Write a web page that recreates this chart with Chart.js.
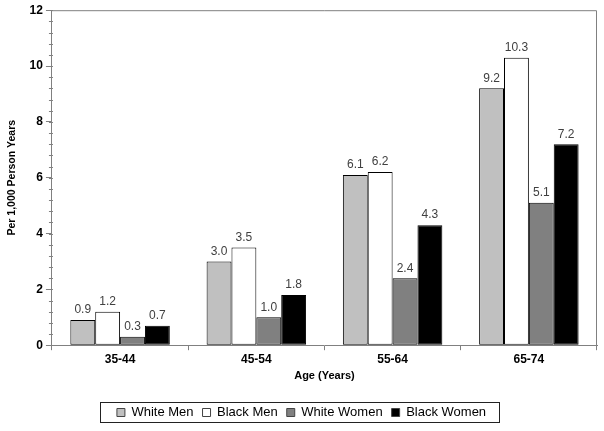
<!DOCTYPE html>
<html><head><meta charset="utf-8">
<script src="https://cdn.jsdelivr.net/npm/chart.js@4"></script>
<style>html,body{margin:0;padding:0;background:#fff}#wrap{width:604px;height:431px}</style>
</head><body><div id="wrap"><canvas id="c" width="604" height="431"></canvas></div>
<script>
const categories = ['35-44', '45-54', '55-64', '65-74'];
const whiteMen = [0.9, 3.0, 6.1, 9.2];
const blackMen = [1.2, 3.5, 6.2, 10.3];
const whiteWomen = [0.3, 1.0, 2.4, 5.1];
const blackWomen = [0.7, 1.8, 4.3, 7.2];
const seriesNames = ['White Men', 'Black Men', 'White Women', 'Black Women'];
const yTicks = [0, 2, 4, 6, 8, 10, 12];

const colors = ['#c0c0c0', '#ffffff', '#808080', '#000000'];
const FONT = "'Liberation Sans', Arial, sans-serif";

const labelsPlugin = {
  id: 'extras',
  afterDatasetsDraw(chart) {
    const ctx = chart.ctx;
    const ca = chart.chartArea;
    ctx.save();
    ctx.strokeStyle = '#808080';
    ctx.lineWidth = 1;
    ctx.beginPath();
    ctx.moveTo(ca.left, ca.top + 0.5);
    ctx.lineTo(ca.right - 0.5, ca.top + 0.5);
    ctx.lineTo(ca.right - 0.5, ca.bottom);
    ctx.stroke();
    const ys = chart.scales.y;
    ctx.beginPath();
    for (let v = 0; v <= 12.001; v += 0.4) {
      const py = Math.round(ys.getPixelForValue(v)) + 0.5;
      ctx.moveTo(ca.left - 3, py);
      ctx.lineTo(ca.left + 1, py);
    }
    ctx.stroke();
    ctx.fillStyle = '#404040';
    ctx.font = '12px ' + FONT;
    ctx.textAlign = 'center';
    ctx.textBaseline = 'bottom';
    chart.data.datasets.forEach((ds, i) => {
      chart.getDatasetMeta(i).data.forEach((bar, j) => {
        ctx.fillText(ds.data[j].toFixed(1), bar.x, bar.y - 4);
      });
    });
    ctx.restore();
  },
  afterDraw(chart) {
    const lg = chart.legend;
    if (!lg || !lg.legendHitBoxes || !lg.legendHitBoxes.length) return;
    const boxes = lg.legendHitBoxes;
    let l = Infinity, r = -Infinity, t = Infinity, b = -Infinity;
    boxes.forEach(h => { l = Math.min(l, h.left); r = Math.max(r, h.left + h.width); t = Math.min(t, h.top); b = Math.max(b, h.top + h.height); });
    const ctx = chart.ctx;
    ctx.save();
    ctx.strokeStyle = '#222';
    ctx.lineWidth = 1;
    ctx.strokeRect(Math.round(l - 17) + 0.5, Math.round(t - 4) + 0.5, Math.round(r - l + 30), Math.round(b - t + 7));
    ctx.restore();
  }
};

new Chart(document.getElementById('c'), {
  type: 'bar',
  data: {
    labels: categories,
    datasets: [whiteMen, blackMen, whiteWomen, blackWomen].map((d, i) => ({
      label: seriesNames[i],
      data: d,
      backgroundColor: colors[i],
      borderColor: '#000',
      borderWidth: 1,
      borderSkipped: false,
      categoryPercentage: 0.73,
      barPercentage: 1.0
    }))
  },
  options: {
    responsive: false,
    animation: false,
    devicePixelRatio: 1,
    layout: { padding: { left: 6, right: 7, top: 9, bottom: 2 } },
    plugins: {
      tooltip: { enabled: false },
      legend: {
        position: 'bottom',
        labels: {
          boxWidth: 8, boxHeight: 8, padding: 9,
          color: '#000',
          font: { family: FONT, size: 13 },
          generateLabels(chart) {
            return chart.data.datasets.map((ds, i) => ({
              text: ds.label, fillStyle: ds.backgroundColor, strokeStyle: '#444',
              lineWidth: 1, datasetIndex: i, hidden: false
            }));
          }
        }
      }
    },
    scales: {
      x: {
        grid: { offset: true, drawOnChartArea: false, tickLength: 5, color: '#808080' },
        border: { color: '#808080' },
        ticks: { color: '#000', font: { family: FONT, size: 12, weight: 'bold', lineHeight: 0.65 }, padding: 6 },
        title: { display: true, text: 'Age (Years)', color: '#000', font: { family: FONT, size: 11, weight: 'bold', lineHeight: 1 }, padding: { top: 0, bottom: 16 } }
      },
      y: {
        min: 0, max: 12,
        afterBuildTicks(scale) { scale.ticks = yTicks.map(v => ({ value: v })); },
        grid: { drawOnChartArea: false, tickLength: 6, color: '#808080' },
        border: { color: '#808080' },
        ticks: { color: '#000', font: { family: FONT, size: 12, weight: 'bold' }, padding: 3 },
        title: { display: true, text: 'Per 1,000 Person Years', color: '#000', font: { family: FONT, size: 10.5, weight: 'bold' }, padding: { top: 0, bottom: 8 } }
      }
    }
  },
  plugins: [labelsPlugin]
});
</script>
</body></html>
